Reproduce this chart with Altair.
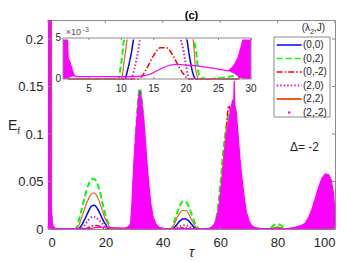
import altair as alt
import pandas as pd

# ---------------- data ----------------
TAU = [0, 0.1, 0.9, 1.0, 1.3, 1.6, 2.0,
       9.0, 9.5, 10.0, 10.5, 11.0, 11.5, 12.0, 12.5, 13.0, 14.0, 15.0, 16.0, 17.0, 18.0,
       19.0, 19.5, 20.0, 20.5, 21.0, 21.5, 22.0, 23.0,
       28.0, 29.0, 30.0, 31.0, 32.0, 33.0, 34.0, 35.0, 36.0, 37.0, 38.0,
       42.0, 43.0, 44.0, 45.0, 46.0, 47.0, 48.0, 49.0, 50.0, 51.0, 52.0, 53.0,
       57.0, 58.0, 59.0, 60.0, 61.0, 62.0, 63.0, 64.0, 65.0, 66.0, 67.0, 68.0, 69.0, 70.0,
       76.0, 77.0, 78.0, 79.0, 80.0, 81.0, 82.0, 83.0, 84.0, 100.0]

EF_00 = [0, 0.4, 0.4, 0.03, 0.008, 0.001, 0,
         0, 0, 0, 0, 0.0012, 0.003, 0.0055, 0.0085, 0.0115, 0.018, 0.0235, 0.025, 0.0225, 0.017,
         0.0105, 0.0075, 0.0053, 0.0028, 0.0008, 0, 0, 0,
         0, 0.003, 0.045, 0.095, 0.125, 0.105, 0.062, 0.027, 0.009, 0.002, 0,
         0, 0, 0.0015, 0.005, 0.0085, 0.0105, 0.0105, 0.0085, 0.005, 0.0015, 0, 0,
         0, 0.002, 0.01, 0.03, 0.06, 0.09, 0.105, 0.1, 0.08, 0.05, 0.025, 0.009, 0.002, 0,
         0, 0, 0, 0.0005, 0.001, 0.0005, 0, 0, 0, 0]

EF_02 = [0, 0.4, 0.4, 0.03, 0.008, 0.001, 0,
         0, 0, 0.002, 0.007, 0.012, 0.018, 0.024, 0.030, 0.036, 0.046, 0.052, 0.053, 0.049, 0.040,
         0.027, 0.021, 0.015, 0.010, 0.0065, 0.0035, 0.0005, 0,
         0.0005, 0.006, 0.06, 0.12, 0.148, 0.125, 0.075, 0.033, 0.011, 0.003, 0.0005,
         0, 0.0005, 0.008, 0.017, 0.025, 0.029, 0.029, 0.024, 0.016, 0.008, 0.002, 0,
         0.0005, 0.004, 0.018, 0.045, 0.08, 0.105, 0.12, 0.115, 0.09, 0.06, 0.03, 0.012, 0.004, 0.001,
         0, 0.0005, 0.002, 0.0045, 0.005, 0.004, 0.002, 0.0003, 0, 0]

EF_0M2 = [0, 0.4, 0.4, 0.03, 0.008, 0.001, 0,
          0, 0, 0, 0, 0, 0, 0, 0, 0.0002, 0.0014, 0.0029, 0.0038, 0.0038, 0.0028,
          0.0013, 0.0007, 0.0002, 0, 0, 0, 0, 0,
          0, 0.003, 0.04, 0.09, 0.12, 0.1, 0.058, 0.025, 0.008, 0.002, 0,
          0, 0, 0, 0.0003, 0.0008, 0.0012, 0.0012, 0.0008, 0.0003, 0, 0, 0,
          0, 0.002, 0.01, 0.03, 0.06, 0.1, 0.13, 0.115, 0.085, 0.05, 0.025, 0.009, 0.002, 0,
          0, 0, 0, 0, 0, 0, 0, 0, 0, 0]

EF_20 = [0, 0.4, 0.4, 0.03, 0.008, 0.001, 0,
         0, 0, 0, 0, 0, 0, 0.0012, 0.003, 0.005, 0.0092, 0.0122, 0.013, 0.0115, 0.0085,
         0.0055, 0.0038, 0.0015, 0, 0, 0, 0, 0,
         0, 0.002, 0.035, 0.085, 0.115, 0.095, 0.055, 0.024, 0.008, 0.002, 0,
         0, 0, 0, 0.0015, 0.003, 0.004, 0.004, 0.003, 0.0015, 0, 0, 0,
         0, 0.001, 0.008, 0.025, 0.05, 0.08, 0.095, 0.09, 0.07, 0.045, 0.02, 0.007, 0.002, 0,
         0, 0, 0, 0, 0, 0, 0, 0, 0, 0]

EF_22 = [0, 0.4, 0.4, 0.03, 0.008, 0.001, 0,
         0, 0, 0, 0.0025, 0.0058, 0.010, 0.0145, 0.019, 0.0235, 0.031, 0.0365, 0.038, 0.035, 0.028,
         0.019, 0.0145, 0.010, 0.0072, 0.005, 0.001, 0, 0,
         0, 0.004, 0.05, 0.105, 0.135, 0.115, 0.068, 0.03, 0.01, 0.002, 0,
         0, 0, 0.005, 0.012, 0.017, 0.0195, 0.0195, 0.016, 0.01, 0.0045, 0.0005, 0,
         0, 0.003, 0.012, 0.035, 0.07, 0.1, 0.115, 0.11, 0.085, 0.055, 0.028, 0.01, 0.003, 0,
         0, 0, 0.0005, 0.0015, 0.002, 0.0015, 0.0005, 0, 0, 0]

# (2,-2): strongly oscillating curve -> lower / upper envelope
TAU_M = [0, 0.1, 0.9, 1.0, 1.3, 1.7, 1.8, 2.1, 2.4, 2.7, 3.0,
         12.4, 13.5, 14.5, 15.5, 16.5, 17.5, 18.6, 20.0, 21.7, 24.3, 26.5,
         27.0, 27.5, 28.0, 28.5,
         28.8, 29.3, 29.9, 30.5, 31.1, 31.6, 32.0, 32.5, 33.4, 34.0, 34.6, 35.2, 35.8, 36.6, 37.5, 38.5,
         40.0, 41.0, 56.0,
         57.0, 58.0, 59.0, 59.8, 60.4, 60.9, 61.5, 62.0, 62.2, 62.7, 63.3, 63.9, 64.3, 64.7, 64.9,
         65.1, 65.6, 66.2, 66.8, 67.4, 68.0, 68.5, 69.1, 70.0, 70.9, 72.0,
         74.0, 75.0, 84.0,
         86.1, 88.0, 89.6, 90.8, 91.9, 93.1, 94.3, 95.4, 96.6, 97.8, 98.7, 99.5, 100.0]
HI_M = [0, 0.5, 0.5, 0.03, 0.008, 0.005, 0.0025, 0.002, 0.0012, 0.0005, 0.0003,
        0.0003, 0.0004, 0.0006, 0.001, 0.0014, 0.0017, 0.0018, 0.0017, 0.0016, 0.0013, 0.001,
        0.0013, 0.0018, 0.0026, 0.004,
        0.006, 0.03, 0.069, 0.097, 0.121, 0.138, 0.146, 0.138, 0.114, 0.09, 0.065, 0.045, 0.027, 0.013, 0.006, 0.002,
        0.0008, 0.0003, 0.0003,
        0.002, 0.005, 0.014, 0.029, 0.045, 0.057, 0.08, 0.092, 0.1, 0.107, 0.12, 0.13, 0.135, 0.132, 0.156,
        0.13, 0.123, 0.1, 0.077, 0.058, 0.043, 0.03, 0.018, 0.009, 0.004, 0.0015,
        0.0006, 0.0003, 0.0008,
        0.0017, 0.0035, 0.006, 0.012, 0.02, 0.032, 0.044, 0.053, 0.058, 0.057, 0.051, 0.037, 0.016]
LO_M = [0, 0, 0, 0, 0, 0, 0.0002, 0.0002, 0.0003, 0.0003, 0.0003,
        0.0003, 0.0004, 0.0006, 0.001, 0.0014, 0.0017, 0.0018, 0.0017, 0.0016, 0.0013, 0.001,
        0.0008, 0.0006, 0.0003, 0.0001,
        0, 0, 0, 0, 0, 0, 0, 0, 0, 0, 0, 0, 0, 0, 0, 0,
        0.0002, 0.0003, 0.0003,
        0, 0, 0, 0, 0, 0, 0, 0, 0, 0, 0, 0, 0, 0, 0,
        0, 0, 0, 0, 0, 0, 0, 0, 0, 0, 0,
        0.0002, 0.0003, 0.0003,
        0, 0, 0, 0, 0, 0, 0, 0, 0, 0, 0, 0, 0]

X_TICKS = [0, 20, 40, 60, 80, 100]
Y_TICKS = [0, 0.05, 0.1, 0.15, 0.2]
IN_X_TICKS = [5, 10, 15, 20, 25, 30]
IN_Y_TICKS = [0, 0.005]
IN_Y_LABELS = ["0", "5"]
LEG_LABELS = ["(0,0)", "(0,2)", "(0,-2)", "(2,0)", "(2,2)", "(2,-2)"]
COLORS = ["#0000FF", "#00FF00", "#FF0000", "#CC22CC", "#E8602C", "#FF00FF"]
DASHES = [[1, 0], [6, 3], [6, 2, 1.5, 2], [1.5, 2], [1, 0], [1, 0]]
WIDTHS = [1.5, 2, 1.5, 2, 1.2, 1.2]

# ---------------- layout ----------------
PT, PL = 20, 48          # plot-area origin on the page
W, H = 287, 209
FONT = "Liberation Sans"
GREY = "#8c8c8c"
TXT = "#262626"


def px(p):
    return p - PL


def py(p):
    return p - PT


xs = alt.Scale(domain=[0, 100], nice=False, zero=False)
ys = alt.Scale(domain=[0, 0.22], nice=False, zero=False)
xax = alt.Axis(values=X_TICKS, title=None, ticks=False, domain=False, grid=False,
               labelFontSize=13, labelPadding=7, labelColor=TXT, labelFont=FONT)
yax = alt.Axis(values=Y_TICKS, format="~g", title=None, ticks=False, domain=False, grid=False,
               labelFontSize=13, labelPadding=5, labelColor=TXT, labelFont=FONT)

one = pd.DataFrame({"a": [0]})


def text(s, x, y, size, align="left", color=TXT, **kw):
    return alt.Chart(one).mark_text(text=s, align=align, baseline="alphabetic", fontSize=size,
                                    font=FONT, color=color, **kw).encode(
        x=alt.value(x), y=alt.value(y))


series = [EF_00, EF_02, EF_0M2, EF_20, EF_22]
series_dfs = [pd.DataFrame({"tau": TAU, "Ef": v}) for v in series]
mag_df = pd.DataFrame({"tau": TAU_M, "lo": LO_M, "hi": HI_M})

# ---- main panel ----
main_layers = []
for df, c, d, w in zip(series_dfs, COLORS[:5], DASHES[:5], WIDTHS[:5]):
    main_layers.append(
        alt.Chart(df).mark_line(color=c, strokeDash=d, strokeWidth=w, interpolate="monotone", clip=True)
        .encode(x=alt.X("tau:Q", scale=xs, axis=xax), y=alt.Y("Ef:Q", scale=ys, axis=yax)))
main_layers.append(
    alt.Chart(mag_df).mark_area(color="#FF00FF", clip=True)
    .encode(x=alt.X("tau:Q", scale=xs, axis=xax), y=alt.Y("lo:Q", scale=ys, axis=yax), y2="hi:Q"))
main_layers.append(
    alt.Chart(mag_df).mark_line(color="#FF00FF", strokeWidth=1.2, clip=True)
    .encode(x=alt.X("tau:Q", scale=xs, axis=xax), y=alt.Y("hi:Q", scale=ys, axis=yax)))

xt = pd.DataFrame({"v": X_TICKS})
yt = pd.DataFrame({"v": Y_TICKS})
for y1, y2 in [(H, H - 3), (0, 3)]:
    main_layers.append(alt.Chart(xt).mark_rule(color=GREY, strokeWidth=1).encode(
        x=alt.X("v:Q", scale=xs, axis=xax), y=alt.value(y1), y2=alt.value(y2)))
for x1, x2 in [(0, 3), (W, W - 3)]:
    main_layers.append(alt.Chart(yt).mark_rule(color=GREY, strokeWidth=1).encode(
        y=alt.Y("v:Q", scale=ys, axis=yax), x=alt.value(x1), x2=alt.value(x2)))

main_layers += [
    text("E", px(8), py(130), 14),
    text("f", px(17.5), py(134), 9),
    text("τ", px(191.5), py(256.5), 14, align="center", fontStyle="italic"),
    text("Δ= -2", px(290), py(151), 12),
    text("(c)", px(191.5), py(19), 11, align="center", fontWeight="bold", color="#000000"),
]
main = alt.layer(*main_layers)

# ---- inset panel ----
IX0, IX1, IYB, IYT = px(63), px(251), py(79), py(38)
xsi = alt.Scale(domain=[1, 30], range=[IX0, IX1], clamp=True, nice=False, zero=False)
ysi = alt.Scale(domain=[0, 0.005], range=[IYB, IYT], clamp=True, nice=False, zero=False)
box_df = pd.DataFrame({"x1": [1], "x2": [30], "y1": [0], "y2": [0.005]})

in_layers = [alt.Chart(box_df).mark_rect(color="white").encode(
    x=alt.X("x1:Q", scale=xsi, axis=None), x2="x2:Q",
    y=alt.Y("y1:Q", scale=ysi, axis=None), y2="y2:Q")]
flt = "datum.tau >= 1 && datum.tau <= 30.6"
for df, c, d, w in zip(series_dfs, COLORS[:5], DASHES[:5], WIDTHS[:5]):
    in_layers.append(
        alt.Chart(df).transform_filter(flt)
        .mark_line(color=c, strokeDash=d, strokeWidth=w, interpolate="monotone")
        .encode(x=alt.X("tau:Q", scale=xsi, axis=None), y=alt.Y("Ef:Q", scale=ysi, axis=None)))
in_layers.append(
    alt.Chart(mag_df).transform_filter(flt).mark_area(color="#FF00FF")
    .encode(x=alt.X("tau:Q", scale=xsi, axis=None), y=alt.Y("lo:Q", scale=ysi, axis=None), y2="hi:Q"))
in_layers.append(
    alt.Chart(mag_df).transform_filter(flt).mark_line(color="#FF00FF", strokeWidth=1.2)
    .encode(x=alt.X("tau:Q", scale=xsi, axis=None), y=alt.Y("hi:Q", scale=ysi, axis=None)))
# white strip hiding values clamped to the inset's upper edge
in_layers.append(alt.Chart(box_df).mark_rule(color="white", strokeWidth=3).encode(
    x=alt.X("x1:Q", scale=xsi, axis=None), x2="x2:Q", y=alt.Y("y2:Q", scale=ysi, axis=None)))
in_layers.append(alt.Chart(box_df).mark_rect(fill="white", fillOpacity=0, stroke=GREY, strokeWidth=1).encode(
    x=alt.X("x1:Q", scale=xsi, axis=None), x2="x2:Q",
    y=alt.Y("y1:Q", scale=ysi, axis=None), y2="y2:Q"))
ixt = pd.DataFrame({"v": IN_X_TICKS, "lab": [str(v) for v in IN_X_TICKS]})
for y1, y2 in [(IYB, IYB - 2), (IYT, IYT + 2)]:
    in_layers.append(alt.Chart(ixt).mark_rule(color=GREY).encode(
        x=alt.X("v:Q", scale=xsi, axis=None), y=alt.value(y1), y2=alt.value(y2)))
in_layers.append(alt.Chart(ixt).mark_text(fontSize=10, font=FONT, color=TXT, baseline="middle").encode(
    x=alt.X("v:Q", scale=xsi, axis=None), y=alt.value(py(89)), text="lab:N"))
iyt = pd.DataFrame({"v": IN_Y_TICKS, "lab": IN_Y_LABELS})
in_layers.append(alt.Chart(iyt).mark_text(fontSize=10, font=FONT, color=TXT, baseline="middle", align="right").encode(
    y=alt.Y("v:Q", scale=ysi, axis=None), x=alt.value(IX0 - 2), text="lab:N"))
in_layers += [text("×10", px(65.7), py(35.3), 9, color="#555555"),
              text("-3", px(82.7), py(31.5), 7, color="#555555")]
inset = alt.layer(*in_layers)

# ---- legend panel ----
leg_df = pd.DataFrame({"idx": list(range(6)), "label": LEG_LABELS})
ls = alt.Scale(domain=[0, 5], range=[py(45), py(112.5)])
col = alt.Color("label:N", scale=alt.Scale(domain=LEG_LABELS, range=COLORS), legend=None)
leg_layers = [
    alt.Chart(one).mark_rect(fill="white", stroke=GREY, strokeWidth=1).encode(
        x=alt.value(px(274)), x2=alt.value(px(330)), y=alt.value(py(37)), y2=alt.value(py(117))),
    alt.Chart(leg_df).transform_filter("datum.idx < 5").mark_rule().encode(
        x=alt.value(px(276.7)), x2=alt.value(px(301.7)),
        y=alt.Y("idx:Q", scale=ls, axis=None), color=col,
        strokeDash=alt.StrokeDash("label:N", scale=alt.Scale(domain=LEG_LABELS, range=DASHES), legend=None),
        strokeWidth=alt.StrokeWidth("label:N", scale=alt.Scale(domain=LEG_LABELS, range=WIDTHS), legend=None)),
    alt.Chart(leg_df).transform_filter("datum.idx >= 4").mark_circle(size=7, opacity=1).encode(
        x=alt.value(px(289.2)), y=alt.Y("idx:Q", scale=ls, axis=None), color=col),
    alt.Chart(leg_df).mark_text(fontSize=10, font=FONT, color=TXT, align="left", baseline="middle").encode(
        x=alt.value(px(303)), y=alt.Y("idx:Q", scale=ls, axis=None), text="label:N"),
    text("(λ", px(310), py(31), 10, align="right"),
    text("2", px(310.2), py(33.5), 7),
    text(",J)", px(314), py(31), 10),
]
legend = alt.layer(*leg_layers)

chart = alt.layer(main, inset, legend).resolve_scale(
    x="independent", y="independent", color="independent",
    strokeDash="independent", strokeWidth="independent"
).properties(
    width=W, height=H,
    padding={"left": PL - 8, "top": PT - 8, "right": 6, "bottom": 254 - (PT - 8) - H},
    autosize=alt.AutoSizeParams(type="none"),
).configure_view(stroke=GREY, strokeWidth=1)

chart.save("out.html", embed_options={"renderer": "svg", "actions": False})
